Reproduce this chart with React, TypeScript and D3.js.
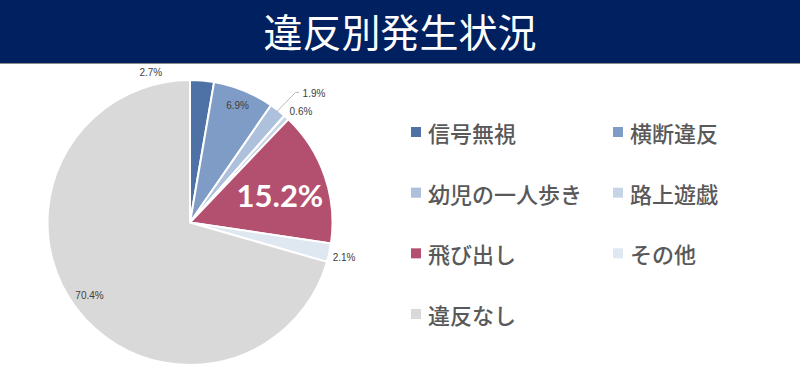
import React from "react";
import * as d3 from "d3";

const categories = ["信号無視", "横断違反", "幼児の一人歩き", "路上遊戯", "飛び出し", "その他", "違反なし"];
const values = [2.7, 6.9, 1.9, 0.6, 15.2, 2.1, 70.4];
const labels = ["2.7%", "6.9%", "1.9%", "0.6%", "15.2%", "2.1%", "70.4%"];
const colors = ["#4e72a6", "#7f9cc6", "#aec1dc", "#c7d4e7", "#b4506f", "#dfe7f1", "#d9d9d9"];
const title = "違反別発生状況";

// label placement: radius (px from center) and angle shift (deg) relative to slice midpoint
const labelRadius = [155, 126, 179, 157, 94, 158, 124];
const labelShift = [-19.5, 0, 5.8, 2.4, 2, 0.6, 1.1];

const W = 800;
const H = 375;
const cx = 190;
const cy = 222.5;
const R = 142.5;
const font = "'Noto Sans CJK JP', 'Noto Sans', sans-serif";

export default function App() {
  const pie = d3.pie<number>().sort(null).value((d) => d)(values);
  const arc = d3.arc<d3.PieArcDatum<number>>().innerRadius(0).outerRadius(R);
  const polar = (angDeg: number, r: number): [number, number] => {
    const a = (angDeg * Math.PI) / 180;
    return [cx + r * Math.sin(a), cy - r * Math.cos(a)];
  };

  const legendX = d3.scalePoint<number>().domain([0, 1]).range([411, 613]);
  const legendY = d3.scaleLinear().domain([0, 3]).range([132, 314]);

  return (
    <div style={{ position: "absolute", left: 0, top: 0 }}>
      <svg width={W} height={H} style={{ display: "block", background: "#fff" }}>
        <rect x={0} y={0} width={W} height={63} fill="#002060" />
        <line x1={0} x2={W} y1={63.5} y2={63.5} stroke="#8c8c8c" strokeWidth={1} />
        <text x={W / 2} y={47} textAnchor="middle" fill="#fff" fontFamily={font} fontSize={39}>
          {title}
        </text>

        <g transform={`translate(${cx},${cy})`}>
          {pie.map((p, i) => (
            <path key={i} d={arc(p) || ""} fill={colors[i]} stroke="#fff" strokeWidth={2} strokeLinejoin="round" />
          ))}
        </g>

        {pie.map((p, i) => {
          const mid = ((p.startAngle + p.endAngle) / 2) * (180 / Math.PI);
          const [x, y] = polar(mid + labelShift[i], labelRadius[i]);
          const big = i === 4;
          return (
            <text
              key={"l" + i}
              x={x}
              y={y}
              textAnchor="middle"
              dominantBaseline="central"
              fill={big ? "#fff" : "#404040"}
              fontWeight={big ? "bold" : "normal"}
              fontFamily={big ? "Lato, 'Open Sans', sans-serif" : "'Liberation Sans', sans-serif"}
              fontSize={big ? 31 : 10}
            >
              {labels[i]}
            </text>
          );
        })}

        {(() => {
          const p = pie[2];
          const mid = ((p.startAngle + p.endAngle) / 2) * (180 / Math.PI);
          const [x0, y0] = polar(mid, R - 2);
          const [x1, y1] = polar(mid + 1, R + 25);
          const [tx] = polar(mid + labelShift[2], labelRadius[2]);
          return (
            <polyline
              points={`${x0},${y0} ${x1},${y1} ${tx - 15},${y1}`}
              fill="none"
              stroke="#a6a6a6"
              strokeWidth={0.8}
            />
          );
        })()}

        {categories.map((c, i) => {
          const col = i === 6 ? 0 : i % 2;
          const row = Math.floor(i / 2);
          const x = legendX(col) as number;
          const y = legendY(row);
          return (
            <g key={"g" + i}>
              <rect x={x} y={y - 5} width={10} height={10} fill={colors[i]} />
              <text x={x + 17} y={y} dominantBaseline="central" fill="#595959" fontFamily={font} fontSize={22} fontWeight={500}>
                {c}
              </text>
            </g>
          );
        })}
      </svg>
    </div>
  );
}
